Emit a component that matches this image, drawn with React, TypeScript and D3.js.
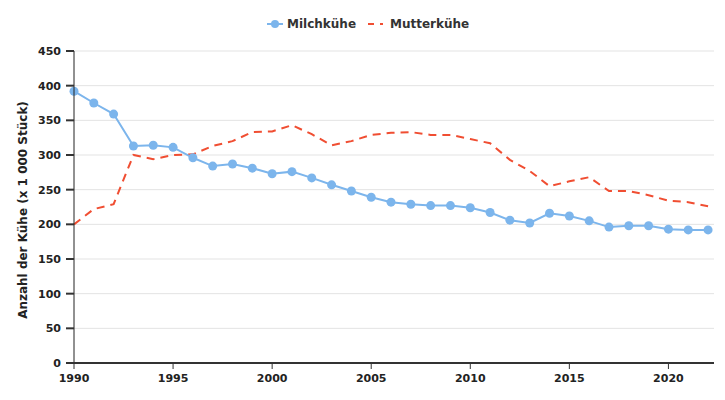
import React from 'react';
import * as d3 from 'd3';

const years = d3.range(1990, 2023);
const milchkuehe = [392, 375, 359, 313, 314, 311, 296, 284, 287, 281, 273, 276, 267, 257, 248, 239, 232, 229, 227, 227, 224, 217, 206, 202, 216, 212, 205, 196, 198, 198, 193, 192, 192];
const mutterkuehe = [200, 222, 229, 300, 294, 300, 301, 313, 320, 333, 334, 343, 330, 314, 320, 329, 332, 333, 329, 329, 323, 317, 293, 277, 255, 262, 268, 248, 248, 242, 234, 232, 226];
const yTicks = [0, 50, 100, 150, 200, 250, 300, 350, 400, 450];
const xTicks = [1990, 1995, 2000, 2005, 2010, 2015, 2020];

const W = 725;
const H = 400;
const left = 74;
const right = 714;
const top = 51;
const bottom = 363;

const App: React.FC = () => {
  const x = d3.scaleLinear().domain([1990, 2022.3]).range([left, right]);
  const y = d3.scaleLinear().domain([0, 450]).range([bottom, top]);

  const line = d3.line<number>()
    .x((_, i) => x(years[i]))
    .y(d => y(d));

  const font = "'DejaVu Sans', sans-serif";

  return (
    <svg width={W} height={H} style={{ position: 'absolute', left: 0, top: 0 }} fontFamily={font}>
      {/* grid */}
      {yTicks.slice(1).map(t => (
        <line key={t} x1={left} x2={right} y1={y(t)} y2={y(t)} stroke="#e3e3e3" strokeWidth={1} />
      ))}

      {/* lines */}
      <path d={line(mutterkuehe) || ''} fill="none" stroke="#f04e32" strokeWidth={2} strokeDasharray="8,6" />
      <path d={line(milchkuehe) || ''} fill="none" stroke="#7cb5ec" strokeWidth={2} />
      {milchkuehe.map((v, i) => (
        <circle key={i} cx={x(years[i])} cy={y(v)} r={4.5} fill="#7cb5ec" />
      ))}

      {/* y axis */}
      <line x1={left} x2={left} y1={top} y2={bottom} stroke="#222" strokeWidth={1} />
      {yTicks.map(t => (
        <g key={t}>
          <line x1={left - 8} x2={left} y1={y(t)} y2={y(t)} stroke="#333" strokeWidth={2} />
          <text x={left - 13} y={y(t)} dy="0.35em" textAnchor="end" fontSize={11} fontWeight="bold" fill="#222">{t}</text>
        </g>
      ))}
      <text transform={`translate(27,${(top + bottom) / 2 + 3}) rotate(-90)`} textAnchor="middle" fontSize={12} fontWeight="bold" fill="#222">
        Anzahl der Kühe (x 1 000 Stück)
      </text>

      {/* x axis */}
      <line x1={left - 8} x2={right} y1={bottom} y2={bottom} stroke="#333" strokeWidth={2} />
      {xTicks.map(t => (
        <g key={t}>
          <line x1={x(t)} x2={x(t)} y1={bottom} y2={bottom + 6} stroke="#333" strokeWidth={1} />
          <text x={x(t)} y={bottom + 19} textAnchor="middle" fontSize={11} fontWeight="bold" fill="#222">{t}</text>
        </g>
      ))}

      {/* legend */}
      <g>
        <line x1={267} x2={283} y1={24} y2={24} stroke="#7cb5ec" strokeWidth={2} />
        <circle cx={275} cy={24} r={4} fill="#7cb5ec" />
        <text x={287} y={24} dy="0.35em" fontSize={12} fontWeight="bold" fill="#333">Milchkühe</text>
        <line x1={368} x2={383} y1={24} y2={24} stroke="#f04e32" strokeWidth={2} strokeDasharray="6,6" />
        <text x={390} y={24} dy="0.35em" fontSize={12} fontWeight="bold" fill="#333">Mutterkühe</text>
      </g>
    </svg>
  );
};

export default App;
